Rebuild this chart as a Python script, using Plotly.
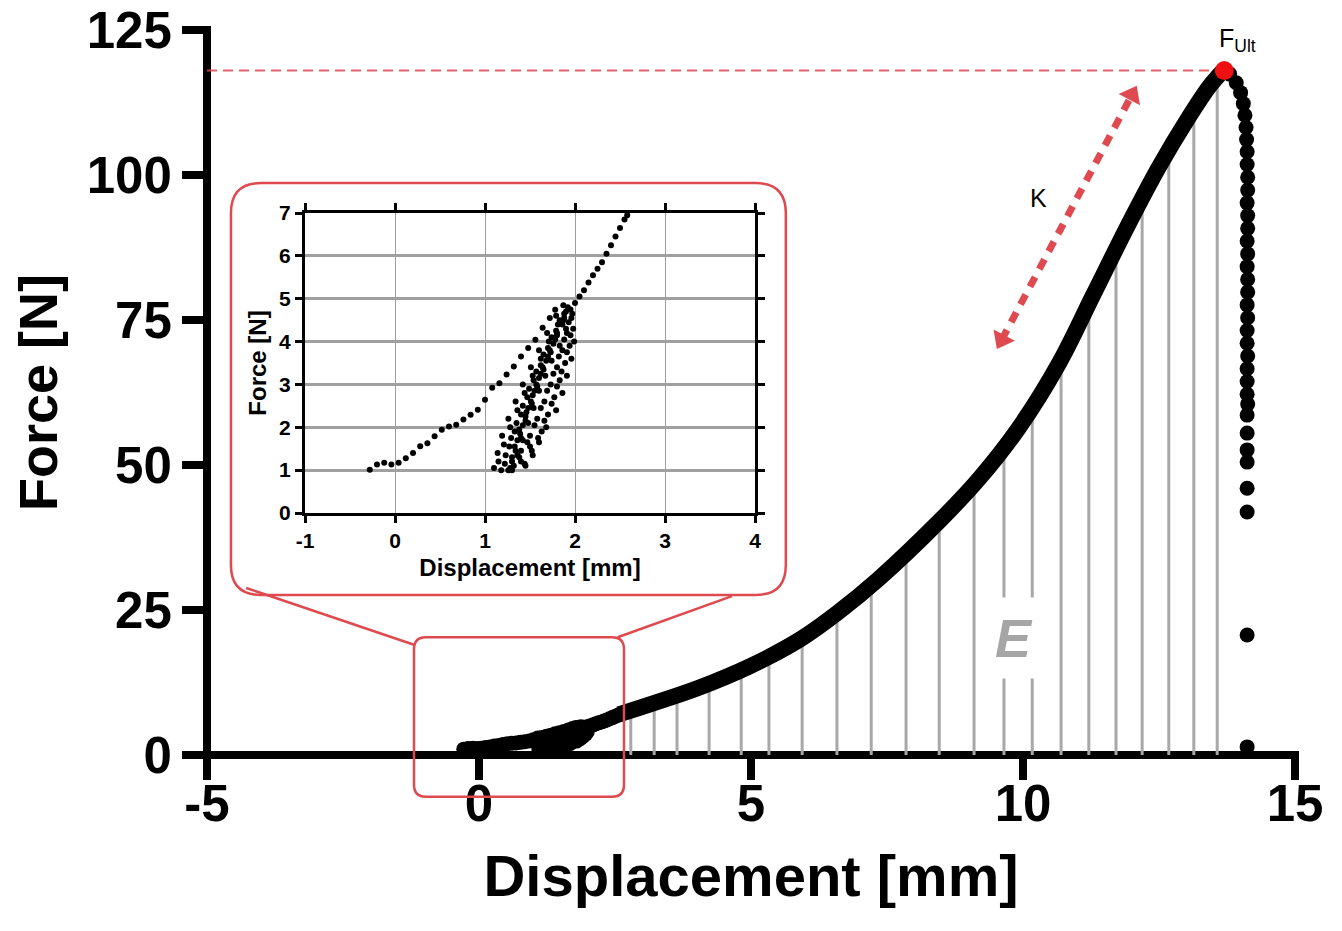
import plotly.graph_objects as go

# ---------------- data ----------------
# Inset: low-force region, first loading branch
inset_load_x = [-0.28, -0.20, -0.12, -0.04, 0.04, 0.12, 0.20, 0.28, 0.36, 0.44, 0.52, 0.60,
                0.68, 0.76, 0.84, 0.92, 1.00, 1.08, 1.16, 1.24, 1.32, 1.40, 1.48, 1.56,
                1.64, 1.72, 1.78]
inset_load_y = [1.01, 1.13, 1.17, 1.13, 1.17, 1.28, 1.40, 1.56, 1.63, 1.79, 1.94, 2.02,
                2.06, 2.18, 2.29, 2.41, 2.64, 2.92, 3.03, 3.23, 3.42, 3.65, 3.85, 4.04,
                4.32, 4.55, 4.74]
# Inset: preconditioning cycles (dense cluster) and continuation
inset_cyc_x = [1.10, 1.14, 1.19, 1.26, 1.34, 1.42, 1.51, 1.60, 1.69, 1.79, 1.87,
               1.18, 1.23, 1.29, 1.35, 1.42, 1.49, 1.57, 1.65, 1.74, 1.83, 1.92,
               1.26, 1.30, 1.36, 1.42, 1.48, 1.55, 1.62, 1.70, 1.78, 1.86, 1.95,
               1.96, 1.91, 1.86, 1.80, 1.73, 1.66, 1.58, 1.50, 1.40, 1.32,
               1.98, 1.94, 1.89, 1.83, 1.77, 1.70, 1.63, 1.50, 1.40, 1.30,
               1.99, 1.96, 1.91, 1.86, 1.79, 1.68, 1.60, 1.53, 1.45,
               1.40, 1.45, 1.52, 1.58, 1.65, 1.73, 1.80, 1.88,
               1.33, 1.38, 1.46, 1.53, 1.60, 1.68, 1.76,
               1.15, 1.21, 1.28, 1.36, 1.44, 1.53, 1.62, 1.71, 1.81, 1.90,
               1.22, 1.27, 1.33, 1.40, 1.47, 1.54, 1.62, 1.70, 1.79, 1.88,
               1.93, 1.88, 1.82, 1.76, 1.69, 1.62, 1.55, 1.47, 1.38, 1.28,
               1.97, 1.95, 1.91, 1.85, 1.80, 1.74, 1.66, 1.59, 1.52, 1.44,
               1.30, 1.34, 1.39, 1.45, 1.51, 1.57, 1.64, 1.72, 1.80, 1.87,
               1.36, 1.42, 1.48, 1.54, 1.60, 1.67, 1.74, 1.83, 1.90,
               2.00, 2.05, 2.10, 2.15, 2.20, 2.25, 2.30, 2.35, 2.40, 2.45, 2.50, 2.55, 2.58]
inset_cyc_y = [1.05, 1.40, 1.80, 2.20, 2.60, 3.00, 3.40, 3.80, 4.20, 4.60, 4.85,
               1.00, 1.35, 1.75, 2.10, 2.50, 2.90, 3.30, 3.70, 4.10, 4.50, 4.80,
               1.00, 1.30, 1.70, 2.05, 2.45, 2.85, 3.25, 3.65, 4.05, 4.40, 4.75,
               4.55, 4.20, 3.80, 3.40, 3.00, 2.60, 2.20, 1.80, 1.45, 1.10,
               4.30, 3.90, 3.50, 3.10, 2.70, 2.30, 1.90, 1.55, 1.20, 1.00,
               4.00, 3.60, 3.20, 2.80, 2.40, 2.00, 1.65, 1.35, 1.10,
               1.75, 2.15, 2.55, 2.95, 3.35, 3.75, 4.15, 4.55,
               1.55, 1.95, 2.35, 2.75, 3.15, 3.55, 3.95,
               1.20, 1.60, 2.00, 2.40, 2.80, 3.20, 3.60, 4.00, 4.40, 4.70,
               1.15, 1.55, 1.90, 2.30, 2.70, 3.10, 3.45, 3.85, 4.25, 4.65,
               4.45, 4.05, 3.65, 3.25, 2.85, 2.45, 2.05, 1.65, 1.30, 1.05,
               4.65, 4.15, 3.75, 3.30, 2.95, 2.55, 2.15, 1.75, 1.45, 1.15,
               1.20, 1.45, 1.85, 2.25, 2.60, 3.00, 3.40, 3.80, 4.20, 4.50,
               1.35, 1.70, 2.10, 2.45, 2.85, 3.20, 3.55, 3.90, 4.30,
               4.90, 5.05, 5.20, 5.38, 5.55, 5.70, 5.85, 6.05, 6.25, 6.45, 6.65, 6.85, 6.95]

# Main curve: rising part beyond the inset window
curve_x = [2.57, 3.20, 4.04, 5.00, 5.88, 6.60, 7.35, 8.46, 9.19, 9.93, 10.66, 11.30,
           11.95, 12.50, 13.05, 13.42, 13.66]
curve_y = [7.0, 8.9, 11.6, 15.4, 19.8, 24.6, 30.4, 40.3, 47.6, 56.5, 67.5, 79.5,
           91.7, 101.4, 110.0, 115.2, 117.8]

# Main curve: after the ultimate force (failure)
post_x = [13.80, 13.92, 14.00, 14.05, 14.08, 14.10, 14.11, 14.12, 14.12, 14.13, 14.13,
          14.12, 14.13, 14.13, 14.12, 14.13, 14.12, 14.13, 14.13, 14.12, 14.13, 14.12,
          14.12, 14.13, 14.12, 14.12, 14.12, 14.13, 14.12, 14.12, 14.12, 14.12, 14.12,
          14.12]
post_y = [117.4, 115.9, 114.2, 112.3, 110.3, 108.2, 106.1, 104.0, 101.8, 99.6, 97.4,
          95.2, 93.0, 90.8, 88.6, 86.4, 84.2, 82.0, 79.8, 77.6, 75.4, 73.2, 71.0,
          68.8, 66.6, 64.4, 62.2, 60.5, 58.6, 55.5, 52.6, 50.5, 46.0, 41.9]
post_far_x = [14.12, 14.12]
post_far_y = [20.7, 1.4]

# Energy (area) hatch lines
hatch_x = [2.79, 3.22, 3.64, 4.23, 4.82, 5.33, 5.94, 6.58, 7.21, 7.85, 8.46, 9.10,
           9.65, 10.17, 10.70, 11.21, 11.71, 12.19, 12.68, 13.14, 13.57]
hatch_top = [7.7, 9.0, 10.3, 12.4, 14.7, 17.0, 20.2, 24.5, 29.3, 34.9, 40.3, 46.7,
             53.0, 59.8, 68.1, 77.8, 87.2, 95.9, 104.2, 111.3, 116.8]

peak_x, peak_y = 13.70, 118.0          # F_Ult
k_x = [9.61, 12.0]                      # stiffness arrow
k_y = [71.6, 113.8]

x_ticks = [-5, 0, 5, 10, 15]
x_ticktext = ["-5", "0", "5", "10", "15"]
y_ticks = [0, 25, 50, 75, 100, 125]
inset_x_ticks = [-1, 0, 1, 2, 3, 4]
inset_x_ticktext = ["-1", "0", "1", "2", "3", "4"]
inset_y_ticks = [0, 1, 2, 3, 4, 5, 6, 7]

# ---------------- layout constants ----------------
W, H = 1342, 931
ML, MR, MT, MB = 207, 47, 30, 176
PW, PH = W - ML - MR, H - MT - MB
XR = [-5, 15]
YR = [0, 125]

BOLD = "Liberation Sans, Arial, sans-serif"
RED = "#de4a4f"


def px_(x):   # main data x -> paper
    return (x - XR[0]) / (XR[1] - XR[0])


def py_(y):   # main data y -> paper
    return (y - YR[0]) / (YR[1] - YR[0])


def rrect(x0, y0, x1, y1, r):
    a0, a1, b0, b1 = px_(x0), px_(x1), py_(y0), py_(y1)
    rx, ry = r / PW, r / PH
    return (f"M {a0+rx},{b0} L {a1-rx},{b0} Q {a1},{b0} {a1},{b0+ry} "
            f"L {a1},{b1-ry} Q {a1},{b1} {a1-rx},{b1} L {a0+rx},{b1} "
            f"Q {a0},{b1} {a0},{b1-ry} L {a0},{b0+ry} Q {a0},{b0} {a0+rx},{b0} Z")


fig = go.Figure()

# hatch lines
hx, hy = [], []
for x, t in zip(hatch_x, hatch_top):
    hx += [x, x, None]
    hy += [0, t, None]
fig.add_trace(go.Scatter(x=hx, y=hy, mode="lines", line=dict(color="#a8a8a8", width=3),
                         hoverinfo="skip"))

# main curve
fig.add_trace(go.Scatter(x=inset_load_x + inset_cyc_x, y=inset_load_y + inset_cyc_y,
                         mode="markers", marker=dict(color="black", size=15),
                         cliponaxis=False))
fig.add_trace(go.Scatter(x=curve_x, y=curve_y, mode="lines",
                         line=dict(color="black", width=16, shape="spline", smoothing=1.0),
                         cliponaxis=False))
fig.add_trace(go.Scatter(x=post_x + post_far_x, y=post_y + post_far_y, mode="markers",
                         marker=dict(color="black", size=15), cliponaxis=False))

# F_Ult reference line and point
fig.add_trace(go.Scatter(x=[XR[0], peak_x], y=[peak_y, peak_y], mode="lines",
                         line=dict(color=RED, width=2, dash="10px,6px"), opacity=0.85,
                         cliponaxis=False))
fig.add_trace(go.Scatter(x=[peak_x], y=[peak_y], mode="markers",
                         marker=dict(color="#ee1111", size=19), cliponaxis=False))

# stiffness arrow K
fig.add_trace(go.Scatter(x=k_x, y=k_y, mode="lines",
                         line=dict(color=RED, width=7, dash="11px,9px")))
fig.add_trace(go.Scatter(x=k_x, y=k_y, mode="markers",
                         marker=dict(color=RED, size=21, symbol="triangle-up",
                                     angle=[208, 28])))

# inset
fig.add_trace(go.Scatter(x=inset_load_x + inset_cyc_x, y=inset_load_y + inset_cyc_y,
                         mode="markers", marker=dict(color="black", size=6),
                         xaxis="x2", yaxis="y2"))

axis_font = dict(family=BOLD, size=51, color="black", weight="bold")
inset_tick_font = dict(family=BOLD, size=21, color="black", weight="bold")
inset_title_font = dict(family=BOLD, size=24, color="black", weight="bold")

fig.update_layout(
    template="none",
    width=W, height=H, margin=dict(l=ML, r=MR, t=MT, b=MB, autoexpand=False),
    plot_bgcolor="white", paper_bgcolor="white", showlegend=False,
    xaxis=dict(range=XR, tickvals=x_ticks, ticktext=x_ticktext, ticks="outside",
               ticklen=24, tickwidth=8, tickcolor="black", showline=False,
               showgrid=False, zeroline=False, automargin=False, tickfont=axis_font,
               ticklabelstandoff=-20,
               title=dict(text="Displacement [mm]", standoff=24,
                          font=dict(family=BOLD, size=58, color="black", weight="bold"))),
    yaxis=dict(range=YR, tickvals=y_ticks, ticks="outside", ticklen=24, tickwidth=8,
               tickcolor="black", showline=False, showgrid=False, zeroline=False,
               automargin=False, tickfont=axis_font,
               title=dict(text="Force [N]", standoff=11,
                          font=dict(family=BOLD, size=54, color="black", weight="bold"))),
    xaxis2=dict(domain=[(305 - ML) / PW, (755 - ML) / PW], anchor="y2", range=[-1, 4],
                tickvals=inset_x_ticks, ticktext=inset_x_ticktext,
                showgrid=True, gridcolor="#9c9c9c", gridwidth=1, automargin=False,
                zeroline=False, showline=True, mirror="allticks", linecolor="black",
                linewidth=3, ticks="outside", ticklen=7, tickwidth=3, tickcolor="black",
                tickfont=inset_tick_font,
                title=dict(text="Displacement [mm]", standoff=8, font=inset_title_font)),
    yaxis2=dict(domain=[(H - MB - 513) / PH, (H - MB - 213) / PH], anchor="x2",
                range=[0, 7], tickvals=inset_y_ticks, showgrid=True, gridcolor="#a0a0a0",
                gridwidth=2.5, automargin=False,
                zeroline=False, showline=True, mirror="allticks", linecolor="black",
                linewidth=3, ticks="outside", ticklen=7, tickwidth=3, tickcolor="black",
                tickfont=inset_tick_font,
                title=dict(text="Force [N]", standoff=6, font=inset_title_font)),
)

shapes = [
    # main axis lines
    dict(type="line", xref="paper", yref="paper", x0=-4 / PW, x1=1 + 4 / PW, y0=0, y1=0,
         line=dict(color="black", width=8), layer="below"),
    dict(type="line", xref="paper", yref="paper", x0=0, x1=0, y0=-4 / PH, y1=1 + 4 / PH,
         line=dict(color="black", width=8), layer="below"),
    # inset frame, zoom window and callout lines
    dict(type="path", xref="paper", yref="paper", path=rrect(-4.56, 27.6, 5.64, 98.6, 30),
         line=dict(color=RED, width=2.5)),
    dict(type="path", xref="paper", yref="paper", path=rrect(-1.195, -7.2, 2.665, 20.3, 12),
         line=dict(color=RED, width=2.5)),
    dict(type="line", xref="paper", yref="paper", x0=px_(-4.28), y0=py_(28.8),
         x1=px_(-1.195), y1=py_(19.0), line=dict(color=RED, width=2.5)),
    dict(type="line", xref="paper", yref="paper", x0=px_(4.65), y0=py_(27.4),
         x1=px_(2.55), y1=py_(20.3), line=dict(color=RED, width=2.5)),
]
fig.update_layout(shapes=shapes)

fig.add_annotation(x=13.94, y=123.3, text="F<sub>Ult</sub>", showarrow=False,
                   font=dict(family="Liberation Sans, Arial", size=25, color="black"))
fig.add_annotation(x=10.29, y=96.0, text="K", showarrow=False,
                   font=dict(family="Liberation Sans, Arial", size=25, color="black"))
fig.add_annotation(x=9.83, y=20.2, text="<b><i>E</i></b>", showarrow=False,
                   bgcolor="white", borderpad=10,
                   font=dict(family="Liberation Sans, Arial", size=54, color="#a6a6a6"))

fig.write_html("out.html")
